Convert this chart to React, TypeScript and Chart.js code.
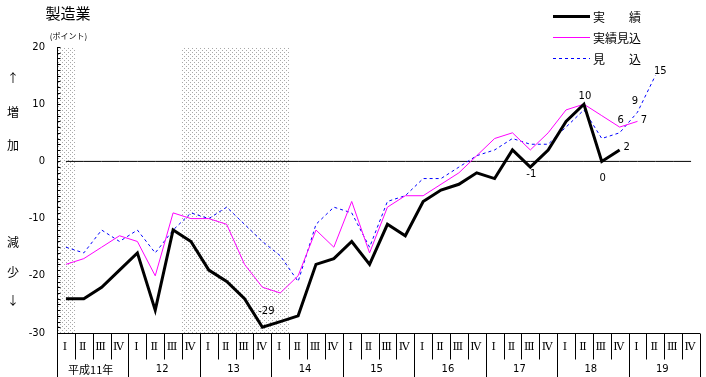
import React, { useEffect, useRef } from "react";
import { Chart, registerables } from "chart.js";

Chart.register(...registerables);

// ---------- data ----------
const yearLabels = ["平成11年", "12", "13", "14", "15", "16", "17", "18", "19"];
const quarterLabels = ["Ⅰ", "Ⅱ", "Ⅲ", "Ⅳ"];
const categories = yearLabels.flatMap((y) => quarterLabels.map((q) => `${y} ${q}`));

const actual = [-24, -24, -22, -19, -16, -26, -12, -14, -19, -21, -24, -29, -28, -27, -18, -17, -14, -18, -11, -13, -7, -5, -4, -2, -3, 2, -1, 2, 7, 10, 0, 2];
const actualEstimate = [-18, -17, -15, -13, -14, -20, -9, -10, -10, -11, -18, -22, -23, -20, -12, -15, -7, -16, -8, -6, -6, -4, -2, 1, 4, 5, 2, 5, 9, 10, 8, 6, 7];
const forecast = [-15, -16, -12, -14, -12, -16, -12, -9, -10, -8, -11, -14, -16.5, -21, -11, -8, -9, -15, -7, -6, -3, -3, -1, 1, 2, 4, 3, 3, 6, 9, 4, 5, 8.6, 15];
const zeroLine = categories.map(() => 0);

const seriesNames = ["実　　績", "実績見込", "見　　込"];
const yTickValues = [20, 10, 0, -10, -20, -30];
const yMin = -30;
const yMax = 20;
// shaded (recession) periods, as category index ranges
const shadedRanges: [number, number][] = [[0, 0], [7, 12]];
// labelled points: dataset index + category index
const labelledPoints = [
  { series: 0, index: 11 },
  { series: 0, index: 26 },
  { series: 0, index: 29 },
  { series: 0, index: 30 },
  { series: 0, index: 31 },
  { series: 1, index: 31 },
  { series: 1, index: 32 },
  { series: 2, index: 32 },
  { series: 2, index: 33 },
];

// ---------- styling ----------
const seriesColors = ["#000000", "#ff00ff", "#0000ff"];
const seriesWidths = [3, 1, 1];
const seriesDashes: number[][] = [[], [], [3, 3]];
const labelOffsets: [number, number][] = [
  [4, -16], [1, 7], [1, -8], [1, 17], [7, -3], [1, -7], [6.5, -1], [-2.5, -10.5], [5, -4],
];
const jp = '"Noto Sans CJK JP", sans-serif';
const num = '"DejaVu Sans", sans-serif';

function makePattern(ctx: CanvasRenderingContext2D) {
  const c = document.createElement("canvas");
  c.width = 4;
  c.height = 4;
  const p = c.getContext("2d")!;
  p.fillStyle = "#a8a8a8";
  p.fillRect(0, 0, 1, 1);
  p.fillRect(2, 2, 1, 1);
  return ctx.createPattern(c, "repeat")!;
}

const decorPlugin = {
  id: "decor",
  beforeDatasetsDraw(chart: any) {
    const { ctx, chartArea, scales } = chart;
    const x = scales.x;
    const half = (x.getPixelForValue(1) - x.getPixelForValue(0)) / 2;
    ctx.save();
    ctx.fillStyle = makePattern(ctx);
    for (const [a, b] of shadedRanges) {
      const x0 = Math.round(x.getPixelForValue(a) - half);
      const x1 = Math.round(x.getPixelForValue(b) + half);
      ctx.fillRect(x0, chartArea.top, x1 - x0, chartArea.bottom - chartArea.top);
    }
    ctx.restore();
  },
  afterDatasetsDraw(chart: any) {
    const { ctx, chartArea, scales } = chart;
    const x = scales.x;
    const y = scales.y;
    const H = chart.height;
    const half = (x.getPixelForValue(1) - x.getPixelForValue(0)) / 2;
    ctx.save();
    ctx.strokeStyle = "#000";
    ctx.lineWidth = 1;

    // y axis line
    const ax = Math.round(chartArea.left) + 0.5;
    ctx.beginPath();
    ctx.moveTo(ax, chartArea.top);
    ctx.lineTo(ax, H);
    ctx.stroke();
    // minor ticks every unit
    for (let v = yMin; v <= yMax; v++) {
      const py = Math.round(y.getPixelForValue(v)) + 0.5;
      ctx.beginPath();
      ctx.moveTo(ax, py);
      ctx.lineTo(ax + 3, py);
      ctx.stroke();
    }
    // y tick labels
    ctx.fillStyle = "#000";
    ctx.font = `10px ${num}`;
    ctx.textAlign = "right";
    ctx.textBaseline = "middle";
    for (const v of yTickValues) {
      ctx.fillText(String(v), 45, y.getPixelForValue(v));
    }

    // x axis line
    const by = Math.round(chartArea.bottom) + 0.5;
    ctx.beginPath();
    ctx.moveTo(chartArea.left, by);
    ctx.lineTo(chartArea.right, by);
    ctx.stroke();
    // separators
    for (let i = 0; i <= categories.length; i++) {
      const bx = Math.round(i < categories.length ? x.getPixelForValue(i) - half : x.getPixelForValue(i - 1) + half) + 0.5;
      ctx.beginPath();
      ctx.moveTo(bx, by);
      ctx.lineTo(bx, i % 4 === 0 ? H : by + 26);
      ctx.stroke();
    }
    // quarter labels
    ctx.textAlign = "center";
    ctx.font = `11px "DejaVu Serif", serif`;
    for (let i = 0; i < categories.length; i++) {
      ctx.fillText(quarterLabels[i % 4], x.getPixelForValue(i) - 1, by + 14);
    }
    // year labels
    for (let k = 0; k < yearLabels.length; k++) {
      const cx = (x.getPixelForValue(k * 4) + x.getPixelForValue(k * 4 + 3)) / 2 - 2;
      ctx.font = k === 0 ? `11px ${jp}` : `10px ${num}`;
      ctx.fillText(yearLabels[k], cx, by + 36);
    }

    // point labels
    ctx.font = `10px ${num}`;
    labelledPoints.forEach((lp, j) => {
      const ds = chart.data.datasets[lp.series];
      const v = ds.data[lp.index] as number;
      const px = x.getPixelForValue(lp.index) + labelOffsets[j][0];
      const py = y.getPixelForValue(v) + labelOffsets[j][1];
      ctx.fillText(String(Math.round(v)), px, py);
    });

    // title & side labels
    ctx.font = `15px ${jp}`;
    ctx.fillText("製造業", 68, 13);
    ctx.font = `8px ${jp}`;
    ctx.fillText("(ポイント)", 68.5, 36);
    ctx.font = `12px ${jp}`;
    const side: [string, number][] = [["↑", 78], ["増", 112], ["加", 145], ["減", 242], ["少", 272], ["↓", 300]];
    for (const [t, yy] of side) ctx.fillText(t, 13, yy);

    // legend
    const legendY = [16, 37, 58];
    ctx.textAlign = "left";
    for (let s = 0; s < 3; s++) {
      ctx.save();
      if (seriesDashes[s].length === 0) {
        ctx.fillStyle = seriesColors[s];
        const w = seriesWidths[s];
        ctx.fillRect(553, legendY[s] - Math.floor(w / 2), 37, w);
      } else {
        ctx.strokeStyle = seriesColors[s];
        ctx.lineWidth = seriesWidths[s];
        ctx.setLineDash(seriesDashes[s]);
        ctx.beginPath();
        ctx.moveTo(553, legendY[s] + 0.5);
        ctx.lineTo(590, legendY[s] + 0.5);
        ctx.stroke();
      }
      ctx.restore();
      ctx.font = `12px ${jp}`;
      ctx.fillStyle = "#000";
      ctx.fillText(seriesNames[s], 593, legendY[s] + 1);
    }
    ctx.restore();
  },
};

export default function App() {
  const ref = useRef<HTMLCanvasElement | null>(null);
  useEffect(() => {
    if (!ref.current) return;
    const chart = new Chart(ref.current, {
      type: "line",
      data: {
        labels: categories,
        datasets: [
          { label: seriesNames[0], data: actual, borderColor: seriesColors[0], borderWidth: seriesWidths[0], pointRadius: 0, tension: 0, fill: false },
          { label: seriesNames[1], data: actualEstimate, borderColor: seriesColors[1], borderWidth: seriesWidths[1], pointRadius: 0, tension: 0, fill: false },
          { label: seriesNames[2], data: forecast, borderColor: seriesColors[2], borderWidth: seriesWidths[2], borderDash: seriesDashes[2], pointRadius: 0, tension: 0, fill: false },
          { label: "", data: zeroLine, borderColor: "#000000", borderWidth: 1, pointRadius: 0, tension: 0, fill: false },
        ],
      },
      options: {
        responsive: false,
        animation: false,
        devicePixelRatio: 1,
        layout: { padding: { left: 57, top: 47, right: 6, bottom: 44 } },
        plugins: { legend: { display: false }, tooltip: { enabled: false }, title: { display: false } },
        scales: {
          x: { type: "category", display: false, offset: true },
          y: { type: "linear", display: false, min: yMin, max: yMax },
        },
      },
      plugins: [decorPlugin],
    });
    return () => chart.destroy();
  }, []);
  return (
    <div style={{ position: "absolute", left: 0, top: 0, width: 706, height: 377, background: "#fff" }}>
      <canvas ref={ref} width={706} height={377} style={{ display: "block" }} />
    </div>
  );
}
